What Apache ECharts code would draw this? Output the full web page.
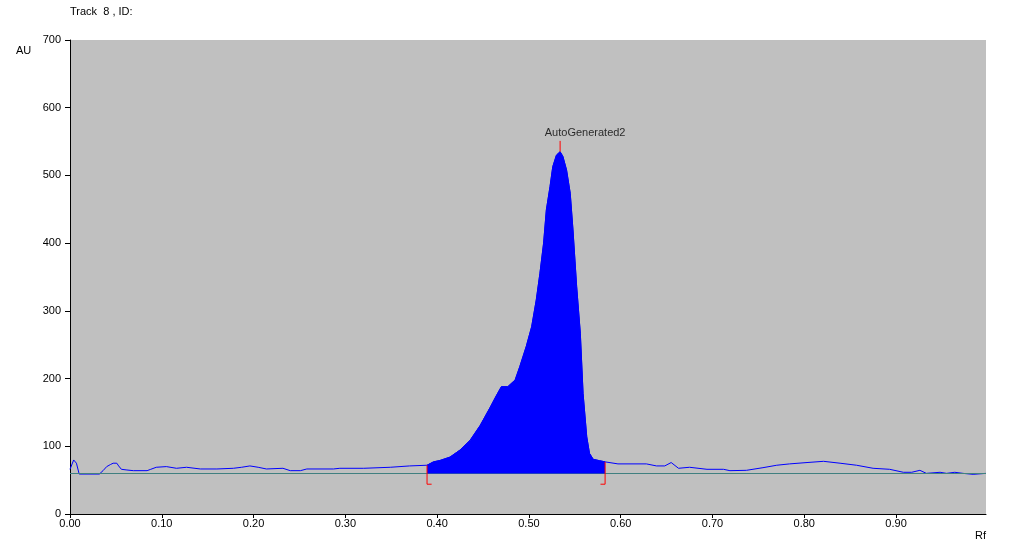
<!DOCTYPE html>
<html>
<head>
<meta charset="utf-8">
<script src="https://cdn.jsdelivr.net/npm/echarts@6/dist/echarts.min.js"></script>
<style>html,body{margin:0;padding:0;background:#fff;}#c{width:1015px;height:552px;}</style>
</head>
<body>
<div id="c"></div>
<script>
// Densitometric trace: Rf positions and absorbance (AU)
const rf = [0.000,0.001,0.004,0.007,0.010,0.032,0.036,0.040,0.044,0.047,0.051,0.053,0.056,0.062,0.069,0.084,0.088,0.094,0.105,0.116,0.127,0.142,0.160,0.178,0.187,0.196,0.205,0.214,0.232,0.240,0.251,0.258,0.287,0.294,0.320,0.349,0.370,0.389,0.396,0.403,0.414,0.425,0.436,0.447,0.458,0.465,0.470,0.477,0.485,0.490,0.497,0.503,0.508,0.512,0.516,0.519,0.523,0.526,0.530,0.534,0.537,0.541,0.545,0.548,0.552,0.556,0.559,0.563,0.566,0.570,0.577,0.583,0.597,0.628,0.639,0.648,0.655,0.663,0.675,0.694,0.712,0.719,0.737,0.755,0.770,0.784,0.803,0.821,0.839,0.857,0.875,0.893,0.908,0.917,0.926,0.933,0.948,0.955,0.964,0.973,0.984,0.998];
const au = [66,66,79.8,75,59,59,64,70,73,75,75,71,66,65,64,64,66,69,70,67.5,69,66.5,66.5,67.5,69,71,69,66.5,67.5,64,64,66.5,66.5,67.5,67.5,69,71,72,77,79,84,94.5,109,131,158,176,188,188,198,217.5,247,276.6,316,355.5,400,449,483.5,513,530,535,528,508,473.7,419.5,336,267,178,114,89.6,80.8,78.7,77,74,74,71,71,76,67.5,69,66,66,64,64.5,68.4,72,74,76,77.8,75,72,67.5,66,61.6,61.6,64.5,60,61.6,60,61.6,60,58.6,60];
const baselineAU = 59.8;
const peakStart = 0.389, peakEnd = 0.583, peakMax = 0.534, peakTopAU = 551, bracketAU = 44, bracketTick = 0.005;
const peakName = 'AutoGenerated2';
const xTicks = [0.00,0.10,0.20,0.30,0.40,0.50,0.60,0.70,0.80,0.90];
const xMax = 0.998;
const yTicks = [0,100,200,300,400,500,600,700];

const trace = rf.map((r,i)=>[r,au[i]]);
const fill = trace.filter(p=>p[0]>=peakStart-1e-9 && p[0]<=peakEnd+1e-9);
const auAt = r => { for(let i=1;i<rf.length;i++){ if(rf[i]>=r){ const t=(r-rf[i-1])/(rf[i]-rf[i-1]); return au[i-1]+t*(au[i]-au[i-1]); } } return au[au.length-1]; };

const font = "'Liberation Sans', Arial, sans-serif";
const chart = echarts.init(document.getElementById('c'), null, {renderer:'canvas'});
chart.setOption({
  animation:false,
  backgroundColor:'#ffffff',
  title:{text:'Track  8 , ID:', left:70, top:6, padding:0, textStyle:{fontSize:11, fontWeight:'normal', color:'#000', fontFamily:font}},
  graphic:[
    {type:'text', left:16, top:45, style:{text:'AU', fontSize:11, fill:'#000', font:'11px '+font}},
    {type:'text', left:975, top:530, style:{text:'Rf', fontSize:11, fill:'#000', font:'11px '+font}}
  ],
  grid:{left:70, right:29, top:40, bottom:38, show:true, backgroundColor:'#C0C0C0', borderWidth:0},
  xAxis:{type:'value', min:xTicks[0], max:xMax, interval:0.1,
    axisLine:{show:true, lineStyle:{color:'#000', width:1}},
    axisTick:{show:true, length:4, lineStyle:{color:'#000'}},
    splitLine:{show:false},
    axisLabel:{margin:4, fontSize:11, color:'#000', fontFamily:font, showMaxLabel:false,
      formatter:v=> v>0.95 ? '' : v.toFixed(2)}},
  yAxis:{type:'value', min:yTicks[0], max:yTicks[yTicks.length-1], interval:100,
    axisLine:{show:true, lineStyle:{color:'#000', width:1}},
    axisTick:{show:true, length:5, lineStyle:{color:'#000'}},
    splitLine:{show:false},
    axisLabel:{margin:9, fontSize:11, color:'#000', fontFamily:font}},
  series:[
    {type:'line', name:'trace', data:trace, symbol:'none', lineStyle:{color:'#0000FF', width:1}, z:2, silent:true},
    {type:'line', name:'baseline', data:[[0,baselineAU],[xMax,baselineAU]], symbol:'none', lineStyle:{color:'#408080', width:1}, z:3, silent:true},
    {type:'line', name:'peakFill', data:fill, symbol:'none', lineStyle:{color:'#0000FF', width:1}, areaStyle:{color:'#0000FF', opacity:1, origin:baselineAU}, z:4, silent:true},
    {type:'line', name:'startMark', data:[[peakStart,auAt(peakStart)],[peakStart,bracketAU],[peakStart+bracketTick,bracketAU]], symbol:'none', lineStyle:{color:'#FF0000', width:1}, z:5, silent:true},
    {type:'line', name:'endMark', data:[[peakEnd,auAt(peakEnd)],[peakEnd,bracketAU],[peakEnd-bracketTick,bracketAU]], symbol:'none', lineStyle:{color:'#FF0000', width:1}, z:5, silent:true},
    {type:'line', name:'peakMark', data:[[peakMax,auAt(peakMax)],[peakMax,peakTopAU]], symbol:'none', lineStyle:{color:'#FF0000', width:1}, z:5, silent:true},
    {type:'scatter', name:'peakLabel', data:[[peakMax,peakTopAU]], symbolSize:0, z:6, silent:true,
      label:{show:true, position:'top', distance:2, offset:[25,0], formatter:peakName, fontSize:11, color:'#000', fontFamily:font}}
  ]
});
</script>
</body>
</html>
